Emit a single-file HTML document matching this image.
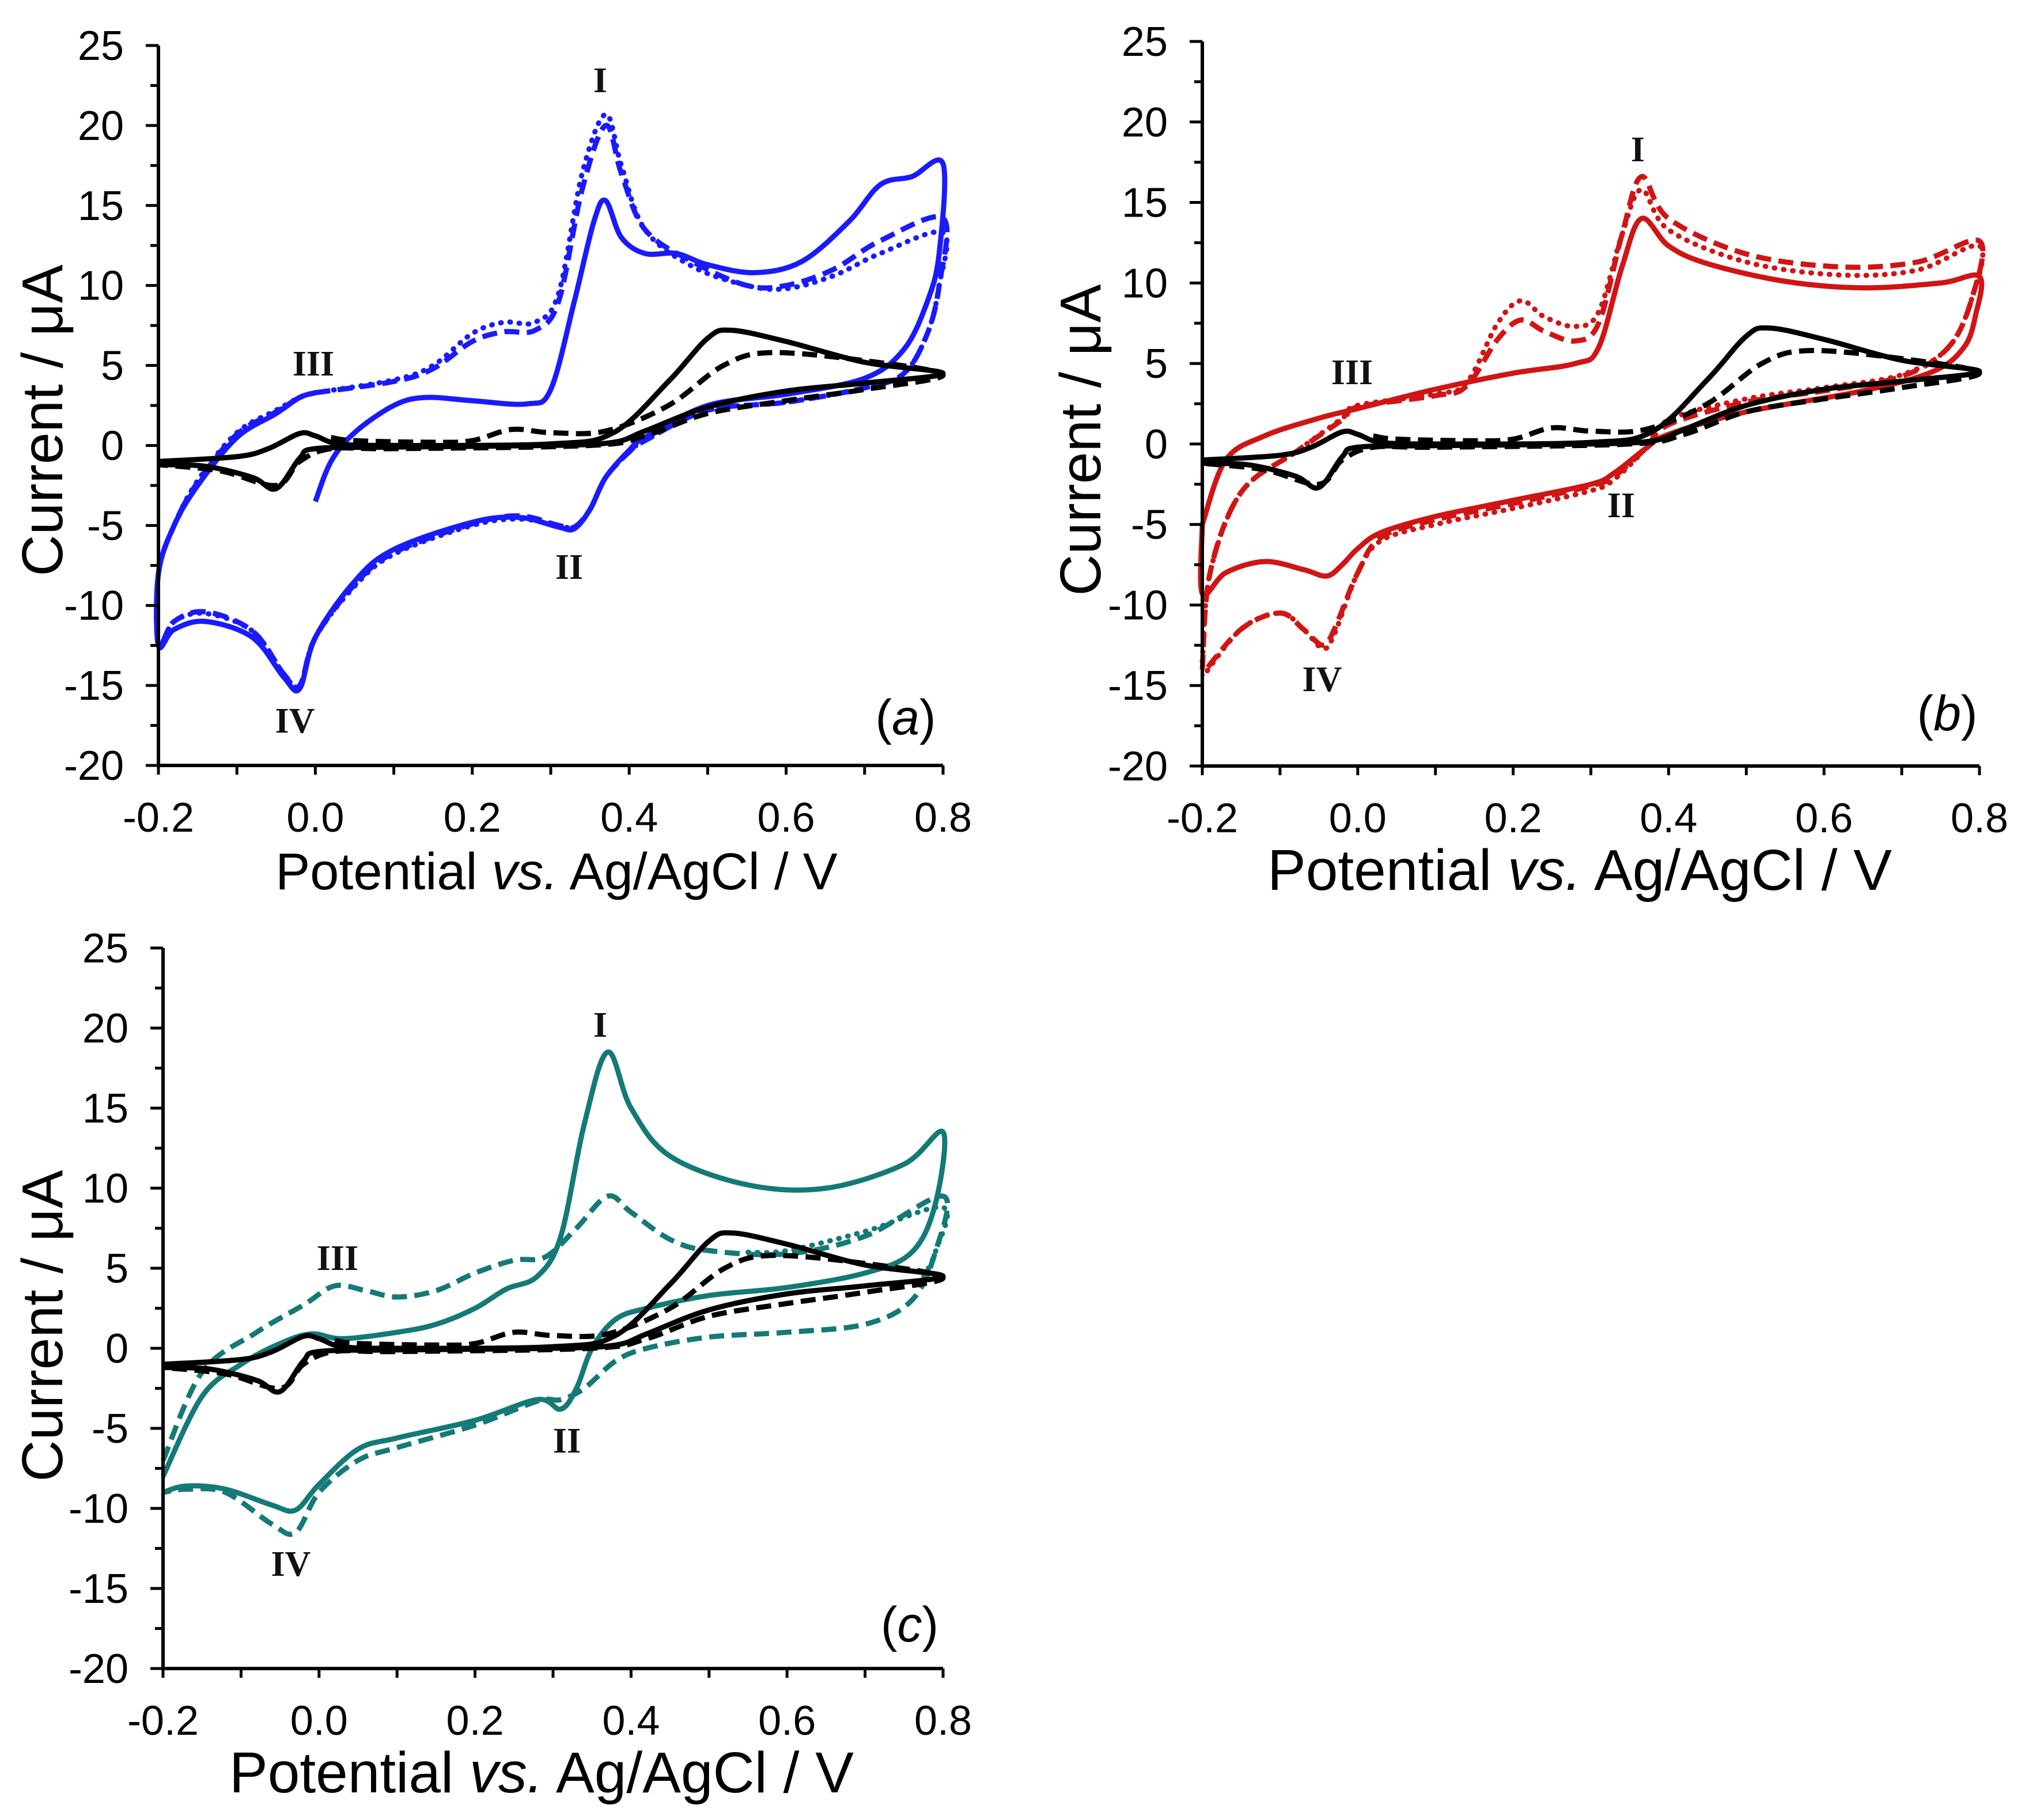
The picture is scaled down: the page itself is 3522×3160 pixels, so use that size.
<!DOCTYPE html>
<html><head><meta charset="utf-8">
<style>
html,body{margin:0;padding:0;background:#fff;}
svg{display:block;}
text{font-family:"Liberation Sans",sans-serif;}
.rn{font-family:"Liberation Serif",serif;font-weight:bold;font-size:62px;fill:#111;}
</style></head>
<body>
<svg id="fig" width="3522" height="3160" viewBox="0 0 3522 3160" xmlns="http://www.w3.org/2000/svg"></svg>
<script>
// ---- shared tick data ----
const xTicks = [-0.2, 0.0, 0.2, 0.4, 0.6, 0.8];
const xTickLabels = ["-0.2", "0.0", "0.2", "0.4", "0.6", "0.8"];
const yTicks = [-20, -15, -10, -5, 0, 5, 10, 15, 20, 25];
const yTickLabels = ["-20", "-15", "-10", "-5", "0", "5", "10", "15", "20", "25"];

// ---- black reference curves (all panels) ----
const blackSolid = [[-0.2,-1],[-0.1,-0.7],[-0.06,-0.2],[-0.02,0.75],[0.0,0.6],[0.03,0.1],[0.1,0],[0.3,0.1],[0.38,0.8],[0.45,4],[0.5,6.7],[0.53,7.2],[0.6,6.5],[0.7,5.2],[0.8,4.5],
 [0.7,3.9],[0.6,3.4],[0.5,2.4],[0.42,0.9],[0.38,0.2],[0.3,0],[0.1,-0.1],[0.0,-0.2],[-0.02,-0.8],[-0.05,-2.7],[-0.08,-2],[-0.14,-1.3],[-0.2,-1.2]];
const blackDashed = [[0.02,0.5],[0.05,0.3],[0.15,0.2],[0.2,0.3],[0.25,1.0],[0.3,0.8],[0.37,0.9],[0.45,2.5],[0.52,5],[0.58,5.8],[0.7,5.3],[0.8,4.4],
 [0.7,3.5],[0.6,2.8],[0.5,2],[0.42,0.6],[0.35,0],[0.1,-0.2],[0.02,-0.2],[-0.02,-1],[-0.05,-2.5],[-0.12,-1.6],[-0.2,-1.2]];

// ---- panel a (blue) ----
const aSolid = [[0.0,-3.5],[0.02,-1],[0.05,0.8],[0.1,2.5],[0.14,3],[0.2,2.8],[0.27,2.6],[0.3,3.5],[0.33,9],[0.355,14],[0.37,15.3],[0.39,13],[0.42,12],[0.46,12],[0.5,11.3],[0.56,10.8],[0.62,11.5],[0.68,14],[0.72,16.3],[0.76,16.8],[0.8,17.6],
 [0.795,12],[0.78,9],[0.75,6],[0.7,4.2],[0.6,3.2],[0.5,2.5],[0.42,0.5],[0.4,-0.3],[0.37,-2],[0.35,-4],[0.33,-5.2],[0.31,-5.1],[0.26,-4.5],[0.2,-4.8],[0.1,-6.5],[0.05,-8.5],[0.0,-12],[-0.02,-15.2],[-0.04,-14.5],[-0.08,-12],[-0.14,-11],[-0.18,-11.5],[-0.2,-12.5],
 [-0.2,-8],[-0.18,-5],[-0.15,-2.5],[-0.1,0.5],[-0.05,2],[-0.02,3],[0.0,3.3]];
const aDashed = [[0.0,3.3],[0.1,4],[0.15,4.8],[0.2,6.5],[0.24,7.1],[0.28,7.2],[0.31,9],[0.34,16],[0.37,20],[0.39,17],[0.42,13.5],[0.48,11.5],[0.55,10],[0.6,10],[0.66,11],[0.72,12.8],[0.8,14.2],
 [0.795,10],[0.78,7],[0.75,4.5],[0.7,3.6],[0.6,2.7],[0.5,2.2],[0.42,0.3],[0.4,-0.4],[0.37,-2],[0.35,-4],[0.33,-5.1],[0.31,-5],[0.26,-4.4],[0.2,-4.9],[0.1,-6.7],[0.05,-8.7],[0.0,-12],[-0.02,-15],[-0.04,-14.3],[-0.08,-11.6],[-0.14,-10.4],[-0.18,-11],[-0.2,-12.5],
 [-0.2,-8],[-0.18,-5],[-0.15,-2.3],[-0.1,0.7],[-0.05,2.1],[-0.02,3],[0.0,3.3]];
const aDotted = [[0.0,3.3],[0.1,4.1],[0.15,5],[0.2,7],[0.24,7.7],[0.28,7.7],[0.31,9.5],[0.34,17],[0.37,20.7],[0.39,17.5],[0.42,13.5],[0.48,11.2],[0.55,10],[0.6,9.8],[0.66,10.6],[0.72,12],[0.8,13.3],
 [0.795,10],[0.78,7],[0.75,4.5],[0.7,3.6],[0.6,2.7],[0.5,2.2],[0.42,0.3],[0.4,-0.4],[0.37,-2],[0.35,-4],[0.33,-5.1],[0.31,-5],[0.26,-4.6],[0.2,-5],[0.1,-6.8],[0.05,-8.8],[0.0,-12],[-0.02,-15],[-0.04,-14.3],[-0.08,-11.6],[-0.14,-10.5],[-0.18,-11],[-0.2,-12.5],
 [-0.2,-8],[-0.18,-5],[-0.15,-2.2],[-0.1,0.8],[-0.05,2.2],[-0.02,3],[0.0,3.3]];

// ---- panel b (red) ----
const bSolid = [[-0.2,-5],[-0.17,-1],[-0.12,0.5],[-0.05,1.6],[0,2.2],[0.1,3.4],[0.2,4.4],[0.28,5],[0.31,6],[0.34,11],[0.365,14],[0.4,12.3],[0.45,11.2],[0.55,10.1],[0.65,9.7],[0.75,10],[0.8,10.4],
 [0.795,8],[0.78,6],[0.74,4.5],[0.65,3.3],[0.5,2],[0.4,0.6],[0.37,-0.3],[0.33,-1.8],[0.3,-2.5],[0.2,-3.5],[0.1,-4.5],[0.03,-5.5],[0.0,-6.5],[-0.02,-7.5],[-0.04,-8.2],[-0.07,-7.8],[-0.12,-7.3],[-0.17,-8],[-0.2,-9.3],[-0.2,-5]];
const bDashed = [[-0.2,-14],[-0.19,-8],[-0.15,-3],[-0.08,-0.5],[-0.02,1.5],[0.0,2.3],[0.1,3],[0.14,3.6],[0.18,6.5],[0.21,7.7],[0.24,7],[0.28,6.4],[0.31,7.5],[0.34,13],[0.365,16.6],[0.4,14],[0.5,11.8],[0.62,11],[0.72,11.3],[0.8,12.6],
 [0.79,9],[0.76,6],[0.7,4.2],[0.6,3.3],[0.5,2.6],[0.4,1.2],[0.37,-0.3],[0.33,-2],[0.3,-2.6],[0.2,-3.7],[0.1,-4.7],[0.03,-5.8],[0.0,-8],[-0.03,-11.5],[-0.045,-12.5],[-0.07,-11.5],[-0.1,-10.5],[-0.15,-11.5],[-0.2,-14.3]];
const bDotted = [[-0.2,-13.5],[-0.19,-8],[-0.15,-3],[-0.08,-0.5],[-0.02,1.6],[0.0,2.4],[0.1,3.1],[0.14,3.8],[0.18,7.5],[0.21,8.9],[0.24,7.9],[0.28,7.3],[0.31,8.2],[0.34,13],[0.365,15.8],[0.4,13.3],[0.5,11.3],[0.62,10.5],[0.72,10.8],[0.8,12.3],
 [0.79,9],[0.76,6],[0.7,4.3],[0.6,3.5],[0.5,2.8],[0.4,1.5],[0.37,-0.3],[0.33,-2.2],[0.3,-2.9],[0.2,-4],[0.1,-5],[0.03,-6],[0.0,-8],[-0.03,-11.8],[-0.045,-12.7],[-0.07,-11.5],[-0.1,-10.5],[-0.15,-11.5],[-0.2,-14.5]];

// ---- panel c (teal) ----
const cSolid = [[-0.2,-8],[-0.15,-3],[-0.1,-1],[-0.05,0.3],[-0.01,0.9],[0.03,0.6],[0.1,1],[0.15,1.5],[0.2,2.5],[0.24,3.7],[0.28,4.5],[0.31,7],[0.34,14],[0.37,18.5],[0.4,15],[0.45,12],[0.55,10.2],[0.65,10],[0.75,11.5],[0.8,13.5],
 [0.79,9],[0.76,6],[0.7,4.7],[0.6,3.8],[0.5,3.3],[0.42,2.5],[0.38,1.8],[0.35,0],[0.33,-2.5],[0.31,-3.8],[0.28,-3.2],[0.2,-4.5],[0.1,-5.6],[0.05,-6.3],[0.0,-8.5],[-0.03,-10.1],[-0.06,-9.8],[-0.12,-8.8],[-0.17,-8.6],[-0.2,-9]];
const cDashed = [[-0.2,-7],[-0.15,-1.5],[-0.08,1],[-0.02,2.7],[0.02,3.9],[0.06,3.6],[0.1,3.2],[0.15,3.6],[0.2,4.7],[0.25,5.5],[0.29,5.7],[0.33,7.5],[0.37,9.5],[0.4,8.5],[0.45,6.8],[0.5,6.1],[0.6,5.9],[0.7,7],[0.8,9.5],
 [0.79,6],[0.76,3],[0.7,1.5],[0.6,1],[0.5,0.7],[0.42,0],[0.38,-0.8],[0.34,-2.5],[0.31,-3.2],[0.28,-3.3],[0.2,-4.8],[0.1,-6.2],[0.05,-7],[0.0,-9],[-0.03,-11.5],[-0.06,-11],[-0.12,-9],[-0.17,-8.8],[-0.2,-9]];
const cDotted = [[0.55,6],[0.6,6.1],[0.7,7.3],[0.8,8.8],[0.79,6],[0.77,4]];

// ---- panel geometry ----
const NS = "http://www.w3.org/2000/svg";
const svg = document.getElementById('fig');
function mk(tag, attrs, parent){
  const e = document.createElementNS(NS, tag);
  for (const k in attrs) e.setAttribute(k, attrs[k]);
  (parent||svg).appendChild(e);
  return e;
}
function smoothPath(pts){
  let d = "M" + pts[0][0].toFixed(1) + "," + pts[0][1].toFixed(1);
  for (let i=0;i<pts.length-1;i++){
    const p0 = pts[Math.max(0,i-1)], p1 = pts[i], p2 = pts[i+1], p3 = pts[Math.min(pts.length-1,i+2)];
    const t = 1/6;
    const c1x = p1[0] + (p2[0]-p0[0])*t, c1y = p1[1] + (p2[1]-p0[1])*t;
    const c2x = p2[0] - (p3[0]-p1[0])*t, c2y = p2[1] - (p3[1]-p1[1])*t;
    d += " C" + c1x.toFixed(1)+","+c1y.toFixed(1)+" "+c2x.toFixed(1)+","+c2y.toFixed(1)+" "+p2[0].toFixed(1)+","+p2[1].toFixed(1);
  }
  return d;
}
function panel(cfg){
  const g = mk('g', {});
  
  
  const sx = v => cfg.x0 + (v - (-0.2)) / 1.0 * (cfg.x1 - cfg.x0);
  const sy = v => cfg.y0 - (v - (-20)) / 45 * (cfg.y0 - cfg.y1);
  cfg.series.forEach(s => {
    const p = mk('path', {d: smoothPath(s.data.map(q => [sx(q[0]), sy(q[1])])), fill:'none', stroke:s.color, 'stroke-width':9, 'stroke-linejoin':'round', 'stroke-linecap': s.dash==='dot'?'round':'butt'}, g);
    if (s.dash==='dash') p.setAttribute('stroke-dasharray','26 13');
    if (s.dash==='dot') p.setAttribute('stroke-dasharray','1 15');
    
    
  });
  const ax = mk('path', {d:`M${cfg.x0},${cfg.y1} L${cfg.x0},${cfg.y0} L${cfg.x1},${cfg.y0}`, fill:'none', stroke:'#000', 'stroke-width':6}, g);
  
  
  for (let v=-20; v<=25.01; v+=2.5){
    const isMaj = Math.abs(v % 5) < 0.01;
    mk('line', {x1:cfg.x0, x2:cfg.x0-(isMaj?22:14), y1:sy(v), y2:sy(v), stroke:'#000','stroke-width':5}, g);
  }
  for (let v=-0.2; v<=0.801; v+=0.1){
    mk('line', {x1:sx(v), x2:sx(v), y1:cfg.y0, y2:cfg.y0+16, stroke:'#000','stroke-width':5}, g);
  }
  yTicks.forEach((v,i) => {
    const t = mk('text', {x:cfg.x0-60, y:sy(v)+25, 'text-anchor':'end','font-size':72, fill:'#000'}, g);
    t.textContent = yTickLabels[i];
    
    
  });
  xTicks.forEach((v,i) => {
    const t = mk('text', {x:sx(v), y:cfg.y0+115, 'text-anchor':'middle','font-size':72, fill:'#000'}, g);
    t.textContent = xTickLabels[i];
    
    
  });
  const xt = mk('text', {x:cfg.xtX, y:cfg.y0+215, 'text-anchor':'middle','font-size':cfg.xtSize, fill:'#000'}, g);
  xt.innerHTML = 'Potential <tspan font-style="italic">vs.</tspan> Ag/AgCl / V';
  
  
  const yt = mk('text', {x:0, y:0, 'text-anchor':'middle','font-size':cfg.ytSize, fill:'#000', transform:`translate(${cfg.ytX},${cfg.ytY}) rotate(-90)`}, g);
  yt.textContent = 'Current / μA';
  
  
  cfg.labels.forEach(l => {
    const t = mk('text', {x:l[1], y:l[2], 'text-anchor':'middle', class:'rn'}, g);
    t.textContent = l[0];
    
    
  });
  const pl = mk('text', {x:cfg.tag[1], y:cfg.tag[2], 'text-anchor':'middle','font-size':86, fill:'#000'}, g);
  pl.innerHTML = '(<tspan font-style="italic">'+cfg.tag[0]+'</tspan>)';
  
  
}

const BLUE='#1a1aff', RED='#d11414', TEAL='#137a77', BLK='#000';
panel({name:'panel-a', x0:275, x1:1637, y0:1329, y1:79, xtX:966, xtSize:90, ytX:108, ytY:730, ytSize:100,
  series:[
    {name:'blue-dotted', data:aDotted, color:BLUE, dash:'dot'},
    {name:'blue-dashed', data:aDashed, color:BLUE, dash:'dash'},
    {name:'blue-solid', data:aSolid, color:BLUE},
    {name:'black-dashed', data:blackDashed, color:BLK, dash:'dash'},
    {name:'black-solid', data:blackSolid, color:BLK}],
  labels:[['I',1042,160],['III',544,652],['II',988,1005],['IV',512,1272]],
  tag:['a',1572,1275]});
panel({name:'panel-b', x0:2087, x1:3436, y0:1330, y1:72, xtX:2742, xtSize:100, ytX:1910, ytY:764, ytSize:100,
  series:[
    {name:'red-dotted', data:bDotted, color:RED, dash:'dot'},
    {name:'red-dashed', data:bDashed, color:RED, dash:'dash'},
    {name:'red-solid', data:bSolid, color:RED},
    {name:'black-dashed', data:blackDashed, color:BLK, dash:'dash'},
    {name:'black-solid', data:blackSolid, color:BLK}],
  labels:[['I',2843,280],['III',2347,667],['II',2814,898],['IV',2295,1200]],
  tag:['b',3380,1268]});
panel({name:'panel-c', x0:283, x1:1637, y0:2897, y1:1646, xtX:940, xtSize:100, ytX:108, ytY:2302, ytSize:100,
  series:[
    {name:'teal-dotted', data:cDotted, color:TEAL, dash:'dot'},
    {name:'teal-dashed', data:cDashed, color:TEAL, dash:'dash'},
    {name:'teal-solid', data:cSolid, color:TEAL},
    {name:'black-dashed', data:blackDashed, color:BLK, dash:'dash'},
    {name:'black-solid', data:blackSolid, color:BLK}],
  labels:[['I',1042,1800],['III',586,2205],['II',984,2522],['IV',505,2736]],
  tag:['c',1579,2850]});
</script>
</body></html>
